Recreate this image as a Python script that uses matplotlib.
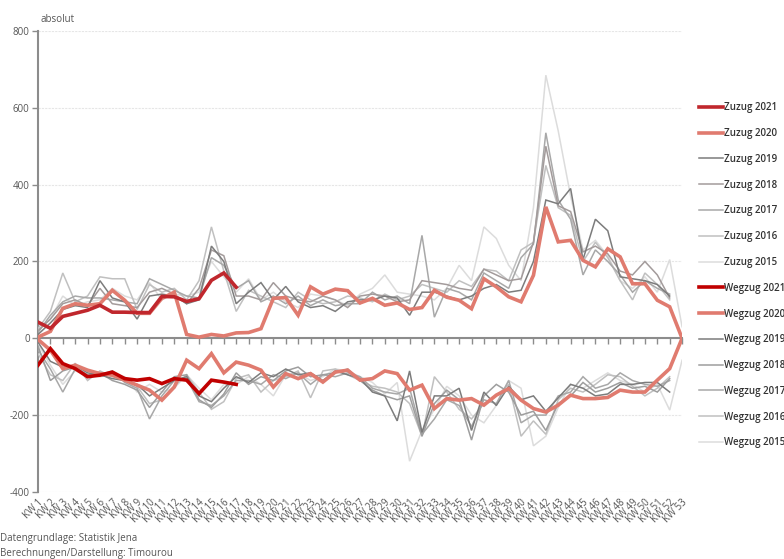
import matplotlib.pyplot as plt
import numpy as np

plt.rcParams['font.family'] = ['Open Sans', 'DejaVu Sans']

weeks = ["KW %d" % i for i in range(1, 54)]

zuzug_2021 = [42, 26, 57, 65, 73, 86, 68, 68, 67, 67, 109, 108, 96, 103, 151, 170, 133]
zuzug_2020 = [3, 18, 78, 90, 86, 90, 125, 99, 65, 65, 104, 120, 10, 3, 10, 6, 14, 15,
              25, 104, 106, 60, 134, 115, 128, 124, 92, 104, 86, 92, 75, 80, 125, 107,
              99, 77, 155, 134, 108, 95, 164, 342, 251, 255, 203, 186, 233, 212, 142,
              142, 99, 82, 0]
zuzug_2019 = [10, 40, 75, 85, 80, 150, 105, 95, 50, 110, 115, 110, 90, 100, 240, 200,
              90, 120, 145, 100, 135, 95, 80, 85, 70, 95, 100, 100, 110, 105, 60, 120,
              120, 110, 100, 110, 130, 140, 120, 125, 200, 360, 350, 390, 205, 310, 280,
              160, 155, 150, 140, 110]
zuzug_2018 = [20, 50, 90, 100, 85, 130, 90, 85, 80, 120, 130, 115, 90, 130, 230, 215,
              110, 110, 100, 145, 110, 100, 95, 110, 100, 80, 110, 115, 110, 95, 100, 150,
              145, 140, 130, 125, 180, 165, 150, 155, 250, 500, 345, 330, 225, 240, 220,
              175, 165, 200, 165, 105]
zuzug_2017 = [15, 60, 95, 110, 105, 105, 100, 95, 90, 155, 140, 125, 110, 105, 210, 190,
              130, 150, 95, 110, 90, 110, 85, 100, 85, 90, 90, 120, 100, 110, 90, 268,
              55, 130, 120, 100, 170, 150, 130, 210, 245, 535, 360, 310, 165, 230, 200,
              165, 120, 150, 130, 115]
zuzug_2016 = [25, 70, 170, 95, 110, 160, 155, 155, 75, 140, 120, 130, 100, 150, 290, 175,
              70, 125, 110, 95, 80, 120, 100, 90, 95, 110, 105, 95, 115, 100, 110, 140,
              130, 120, 150, 135, 180, 175, 150, 230, 250, 450, 340, 320, 200, 250, 210,
              150, 100, 170, 140, 100]
zuzug_2015 = [20, 50, 110, 85, 95, 100, 130, 110, 100, 145, 100, 115, 110, 120, 200, 160,
              120, 155, 100, 120, 95, 80, 115, 110, 100, 85, 115, 130, 165, 120, 115, 110,
              100, 130, 190, 150, 290, 260, 190, 150, 340, 685, 540, 370, 230, 255, 215,
              150, 130, 160, 120, 205, 30]

wegzug_2021 = [-70, -27, -66, -79, -100, -96, -88, -105, -109, -105, -118, -105, -109,
               -144, -109, -114, -120]
wegzug_2020 = [-3, -31, -79, -70, -83, -92, -96, -109, -122, -135, -161, -127, -57, -79,
               -40, -90, -62, -70, -83, -127, -92, -105, -92, -114, -88, -83, -109, -105,
               -85, -92, -135, -122, -183, -157, -161, -157, -174, -148, -131, -161, -183,
               -192, -174, -148, -157, -157, -154, -135, -140, -140, -109, -79, 0]
wegzug_2019 = [-10, -60, -75, -70, -90, -95, -105, -110, -120, -150, -130, -110, -100,
               -150, -165, -130, -100, -115, -90, -100, -80, -95, -90, -110, -85, -95,
               -105, -140, -150, -215, -85, -245, -150, -150, -130, -240, -140, -175,
               -125, -160, -150, -190, -155, -120, -130, -150, -145, -120, -120, -115,
               -115, -140]
wegzug_2018 = [-20, -110, -85, -75, -95, -90, -110, -120, -135, -180, -140, -100, -95,
               -160, -180, -145, -90, -120, -100, -110, -85, -75, -100, -95, -90, -80,
               -110, -135, -150, -160, -150, -255, -170, -135, -160, -265, -150, -120,
               -140, -200, -190, -240, -170, -150, -115, -140, -130, -115, -130, -125,
               -140, -105]
wegzug_2017 = [-30, -80, -140, -80, -100, -95, -85, -115, -130, -210, -150, -110, -105,
               -165, -175, -150, -110, -110, -120, -95, -105, -90, -120, -95, -100, -90,
               -100, -130, -140, -145, -130, -250, -210, -160, -175, -230, -160, -170,
               -110, -220, -200, -200, -150, -140, -100, -130, -120, -90, -110, -120,
               -125, -110]
wegzug_2016 = [-40, -95, -110, -65, -110, -85, -100, -105, -125, -170, -160, -125, -95,
               -140, -185, -165, -105, -95, -140, -110, -100, -85, -155, -85, -80, -95,
               -110, -125, -130, -140, -170, -255, -100, -140, -185, -210, -170, -150,
               -120, -255, -215, -250, -160, -130, -140, -120, -95, -100, -125, -150,
               -130, -100]
wegzug_2015 = [-15, -70, -120, -85, -95, -100, -95, -100, -140, -120, -140, -130, -95,
               -130, -160, -120, -120, -100, -120, -150, -95, -90, -110, -100, -80, -85,
               -100, -115, -145, -115, -320, -240, -185, -125, -150, -200, -220, -175,
               -110, -130, -280, -255, -180, -120, -130, -110, -90, -110, -120, -140,
               -120, -187, -57]

y_ticks = [800, 600, 400, 200, 0, -200, -400]

series = [
    ("Zuzug 2021", zuzug_2021, "#c0272d", 2.6, 10),
    ("Zuzug 2020", zuzug_2020, "#e07b6f", 2.6, 9),
    ("Zuzug 2019", zuzug_2019, "#7c7c7c", 1.1, 8),
    ("Zuzug 2018", zuzug_2018, "#a39b9b", 1.1, 7),
    ("Zuzug 2017", zuzug_2017, "#a8a8a8", 1.1, 6),
    ("Zuzug 2016", zuzug_2016, "#c0c0c0", 1.1, 5),
    ("Zuzug 2015", zuzug_2015, "#dcdcdc", 1.1, 4),
    ("Wegzug 2021", wegzug_2021, "#c00000", 2.6, 10),
    ("Wegzug 2020", wegzug_2020, "#e07b6f", 2.6, 9),
    ("Wegzug 2019", wegzug_2019, "#7c7c7c", 1.1, 8),
    ("Wegzug 2018", wegzug_2018, "#9e9e9e", 1.1, 7),
    ("Wegzug 2017", wegzug_2017, "#a8a8a8", 1.1, 6),
    ("Wegzug 2016", wegzug_2016, "#c0c0c0", 1.1, 5),
    ("Wegzug 2015", wegzug_2015, "#dcdcdc", 1.1, 4),
]

fig = plt.figure(figsize=(7.84, 5.59), dpi=100)
ax = fig.add_axes([0.0485, 0.12, 0.8215, 0.8245])

x = np.arange(len(weeks))
for label, vals, color, lw, z in series:
    ax.plot(x[:len(vals)], vals, color=color, lw=lw, zorder=z, label=label,
            solid_joinstyle="miter")

ax.set_xlim(0, len(weeks) - 1)
ax.set_ylim(-400, 800)
ax.set_yticks(y_ticks)
ax.set_yticklabels([str(v) for v in y_ticks])
ax.yaxis.grid(True, color="#e6e6e6", lw=0.8, ls=(0, (2, 1)))
ax.set_axisbelow(True)

for s in ["top", "right"]:
    ax.spines[s].set_visible(False)
ax.spines["left"].set_color("#8c8c8c")
ax.spines["left"].set_linewidth(1.5)
ax.spines["bottom"].set_position(("data", 0))
ax.spines["bottom"].set_color("#8c8c8c")
ax.spines["bottom"].set_linewidth(1.5)
ax.spines["bottom"].set_zorder(3)

ax.set_xticks(x)
ax.tick_params(axis="x", length=4, width=1, color="#8c8c8c", labelbottom=False)
ax.tick_params(axis="y", length=4, width=1, color="#8c8c8c", labelsize=7,
               labelcolor="#555555", pad=2)

sec = ax.secondary_xaxis(0)
sec.set_xticks(x)
sec.set_xticklabels(weeks, rotation=45, ha="right", rotation_mode="anchor",
                    fontsize=7, color="#555555")
sec.tick_params(length=0, pad=4)
sec.spines["bottom"].set_visible(False)

fig.text(0.052, 0.965, "absolut", fontsize=7, color="#555555", va="center")
fig.text(0.0, 0.037, "Datengrundlage: Statistik Jena", fontsize=7, color="#555555",
         va="center")
fig.text(0.0, 0.010, "Berechnungen/Darstellung: Timourou", fontsize=7, color="#555555",
         va="center")

handles, labels = ax.get_legend_handles_labels()
leg = fig.legend(handles, labels, loc="upper left", bbox_to_anchor=(0.892, 0.817),
                 frameon=False, handlelength=2.4, handletextpad=0.15,
                 labelspacing=1.52, borderaxespad=0, borderpad=0,
                 prop={"size": 7, "weight": "semibold"})
for t in leg.get_texts():
    t.set_color("#333333")

fig.savefig("out.png", dpi=100)
